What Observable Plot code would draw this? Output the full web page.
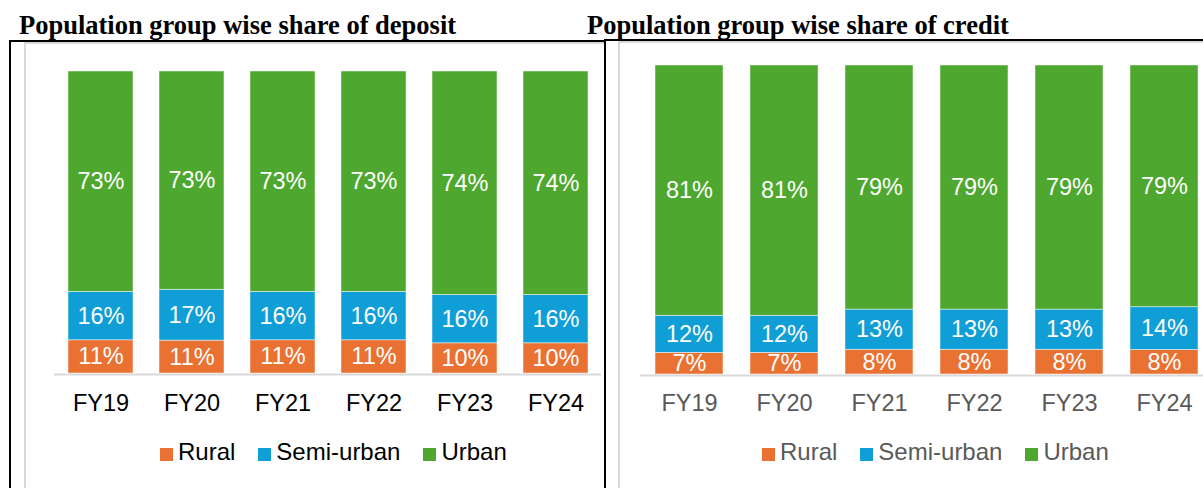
<!DOCTYPE html>
<html>
<head>
<meta charset="utf-8">
<script src="https://cdn.jsdelivr.net/npm/d3@7"></script>
<script src="https://cdn.jsdelivr.net/npm/@observablehq/plot@0.6"></script>
<style>
  html, body { margin: 0; padding: 0; background: #fff; width: 1203px; height: 488px; overflow: hidden; }
  body { position: relative; font-family: "Liberation Sans", Arial, sans-serif; }
  .title { position: absolute; top: 10px; font-family: "Liberation Serif", "Times New Roman", serif; font-weight: bold; font-size: 26.5px; color: #000; white-space: nowrap; line-height: 30px; }
  .box { position: absolute; box-sizing: border-box; }
  .chart { position: absolute; top: 0; }
  .chart svg { max-width: none !important; }
  .legend { position: absolute; top: 439px; display: flex; align-items: center; font-size: 24px; line-height: 26px; white-space: nowrap; }
  .legend .sw { width: 13px; height: 13px; margin-right: 5px; position: relative; top: 2px; }
  .legend .item { display: flex; align-items: center; margin-right: 23px; }
</style>
</head>
<body>
<div class="title" style="left:19px">Population group wise share of deposit</div>
<div class="title" style="left:587px">Population group wise share of credit</div>

<!-- panel frames -->
<div class="box" style="left:9px; top:40px; width:597px; height:460px; border:2px solid #000; border-bottom:none;"></div>
<div class="box" style="left:24px; top:42px; width:580px; height:460px; border-left:2px solid #d9d9d9; border-top:2px solid #d9d9d9;"></div>
<div class="box" style="left:604px; top:39px; width:620px; height:460px; border-left:2px solid #000; border-top:2px solid #000;"></div>
<div class="box" style="left:618px; top:41px; width:600px; height:460px; border-left:2px solid #d9d9d9; border-top:2px solid #d9d9d9;"></div>

<div id="left" class="chart" style="left:0px; width:605px"></div>
<div id="right" class="chart" style="left:605px; width:620px"></div>
<div id="legLeft" class="legend" style="left:160px; color:#000"></div>
<div id="legRight" class="legend" style="left:762px; color:#595959"></div>

<script>
const years = ["FY19", "FY20", "FY21", "FY22", "FY23", "FY24"];
const groups = ["Rural", "Semi-urban", "Urban"];
const colors = ["#E97132", "#0F9ED5", "#4EA72E"];

const depositRural = [11, 11, 11, 11, 10, 10];
const depositSemi  = [16, 17, 16, 16, 16, 16];
const depositUrban = [73, 73, 73, 73, 74, 74];

const creditRural = [7, 7, 8, 8, 8, 8];
const creditSemi  = [12, 12, 13, 13, 13, 14];
const creditUrban = [81, 81, 79, 79, 79, 79];

function toRows(r, s, u) {
  const rows = [];
  years.forEach((y, i) => {
    rows.push({year: y, group: "Rural", value: r[i]});
    rows.push({year: y, group: "Semi-urban", value: s[i]});
    rows.push({year: y, group: "Urban", value: u[i]});
  });
  return rows;
}

function chart(rows, opts) {
  const stackOpts = {x: "year", y: "value", z: "group", offset: "normalize"};
  return Plot.plot({
    width: opts.width,
    height: 488,
    marginLeft: opts.ml,
    marginRight: opts.mr,
    marginTop: opts.mt,
    marginBottom: opts.mb,
    style: {fontFamily: "'Liberation Sans', Arial, sans-serif", background: "transparent", overflow: "visible", maxWidth: "none"},
    x: {domain: years, paddingInner: opts.pi, paddingOuter: opts.po, axis: null, label: null},
    y: {domain: [0, 1], axis: null, label: null},
    color: {domain: groups, range: colors},
    marks: [
      Plot.barY(rows, Plot.stackY({...stackOpts, fill: "group", stroke: "white", strokeWidth: 0.8, strokeOpacity: 0.6})),
      Plot.text(rows, Plot.stackY({...stackOpts, text: d => d.value + "%", fill: "white", fontSize: 23.5})),
      Plot.ruleY([0], {stroke: "#d9d9d9", strokeWidth: 2, dy: 1}),
      Plot.axisX({tickSize: 0, tickPadding: opts.tp, fontSize: 23.5, fill: opts.tickColor, stroke: "none", label: null})
    ]
  });
}

document.getElementById("left").append(chart(toRows(depositRural, depositSemi, depositUrban),
  {width: 605, ml: 54, mr: 4, mt: 71, mb: 115, pi: 0.287, po: 0.1435, tp: 21, tickColor: "#000"}));
document.getElementById("right").append(chart(toRows(creditRural, creditSemi, creditUrban),
  {width: 620, ml: 35, mr: 12.6, mt: 65, mb: 114, pi: 0.28, po: 0.14, tp: 20, tickColor: "#595959"}));

function legend(el) {
  groups.forEach((g, i) => {
    const item = document.createElement("div");
    item.className = "item";
    const sw = document.createElement("div");
    sw.className = "sw";
    sw.style.background = colors[i];
    const t = document.createElement("span");
    t.textContent = g;
    item.append(sw, t);
    el.append(item);
  });
}
legend(document.getElementById("legLeft"));
legend(document.getElementById("legRight"));
</script>
</body>
</html>
